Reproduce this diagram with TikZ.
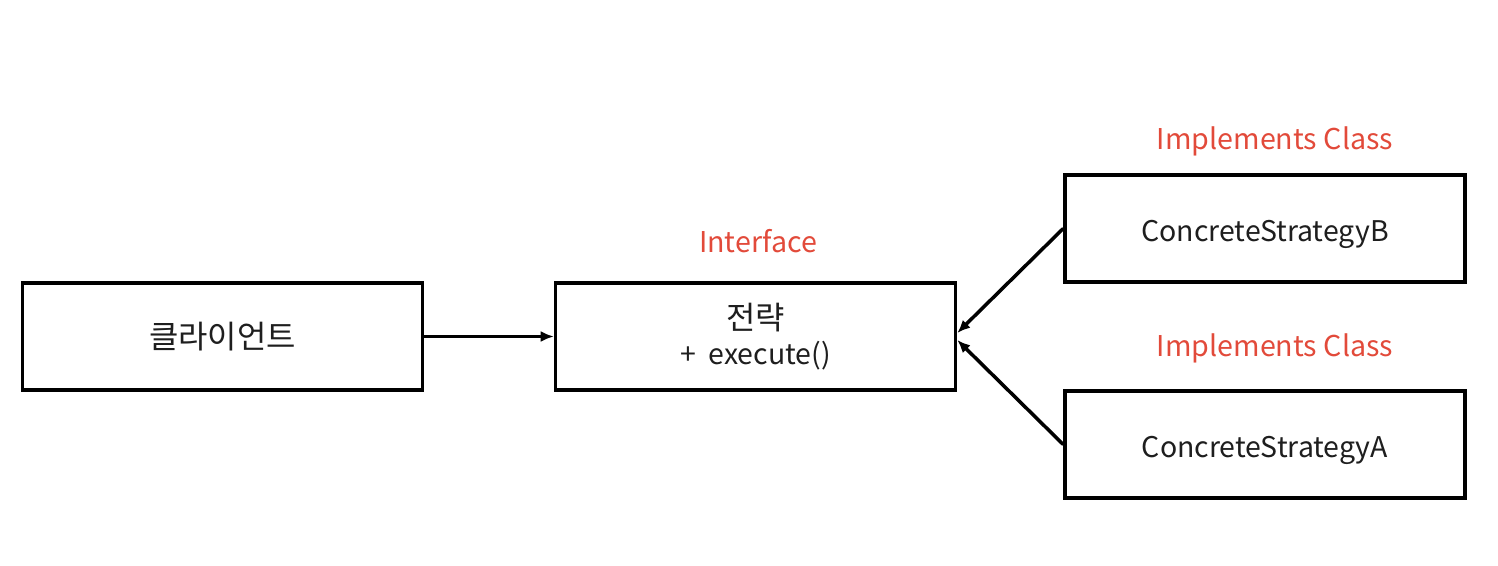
\documentclass[tikz,border=0pt]{standalone}
\usepackage{fontspec}
\setmainfont{Noto Sans CJK KR}
\newfontfamily\krfont{Noto Sans CJK KR}[Scale=1.12]
\usetikzlibrary{positioning,arrows.meta}
\definecolor{notered}{RGB}{226,74,58}
\definecolor{notetext}{RGB}{30,30,30}

\begin{document}
\begin{tikzpicture}[
    box/.style={draw, line width=2pt, minimum width=8.0cm, minimum height=2.14cm,
                text=notetext, font=\fontsize{16.2}{22}\selectfont, align=center, inner sep=0pt},
    tag/.style={text=notered, font=\fontsize{16.3}{18}\selectfont},
    link/.style={line width=2pt, -{Latex[length=0.26cm, width=0.22cm]}}
]
\useasboundingbox (0,0) rectangle (29.96,-11.32);

% Client and strategy interface
\node[box] (client) at (4.45,-6.73) {\krfont 클라이언트};
\node[box] (strategy) at (15.11,-6.73) {{\krfont 전략}\\[-2pt]+\ \ execute()};
\node[tag] (iface) at (15.16,-4.82) {Interface};

% Concrete strategies
\node[box] (stratB) at (25.30,-4.57) {\raisebox{-3.4pt}[\height][\depth]{ConcreteStrategyB}};
\node[box] (stratA) at (25.30,-8.89) {\raisebox{-3.4pt}[\height][\depth]{ConcreteStrategyA}};
\node[tag] (implB) at (25.50,-2.82) {Implements Class};
\node[tag] (implA) at (25.50,-6.96) {Implements Class};

% Connectors
\draw[link] (client) -- (strategy);
\draw[link] (stratB.west) -- ([yshift=0.07cm]strategy.east);
\draw[link] (stratA.west) -- ([yshift=-0.07cm]strategy.east);

\end{tikzpicture}
\end{document}
